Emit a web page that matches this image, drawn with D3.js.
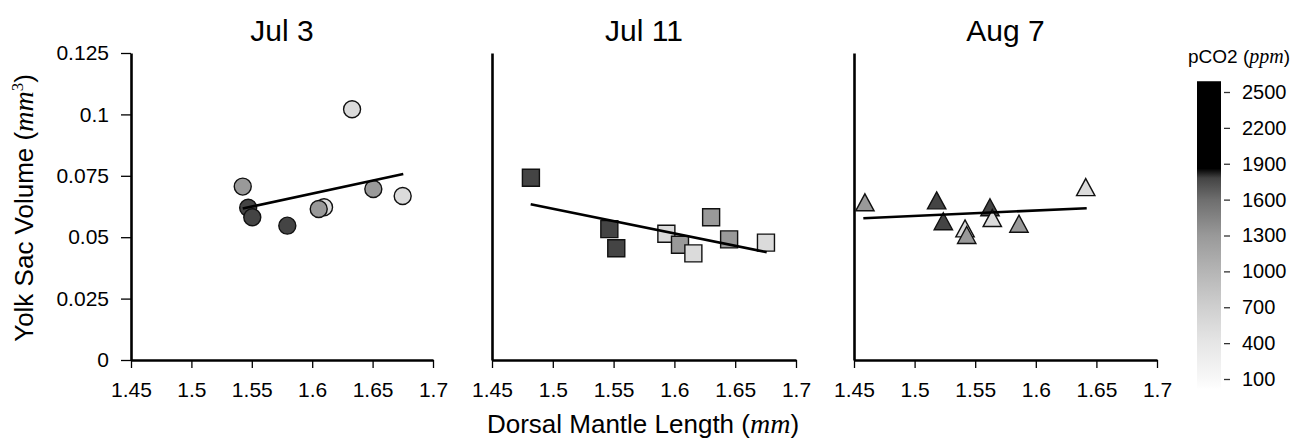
<!DOCTYPE html>
<html>
<head>
<meta charset="utf-8">
<script src="https://cdn.jsdelivr.net/npm/d3@7"></script>
<style>
  body { margin: 0; background: #fff; }
  svg { display: block; }
  text { font-family: "Liberation Sans", Arial, Helvetica, sans-serif; fill: #000; }
  .math { font-family: "Liberation Serif", "DejaVu Serif", serif; font-style: italic; }
</style>
</head>
<body>
<svg id="chart" width="1313" height="438"></svg>
<script>
// ---------------- DATA ----------------
const panelTitles = ["Jul 3", "Jul 11", "Aug 7"];
const markerShapes = ["circle", "square", "triangle"];

const xTicks = [1.45, 1.5, 1.55, 1.6, 1.65, 1.7];
const xTickLabels = ["1.45", "1.5", "1.55", "1.6", "1.65", "1.7"];
const yTicks = [0, 0.025, 0.05, 0.075, 0.1, 0.125];
const yTickLabels = ["0", "0.025", "0.05", "0.075", "0.1", "0.125"];

// Jul 3 (circles)
const jul3Length = [1.633, 1.5425, 1.547, 1.5504, 1.5794, 1.6098, 1.6054, 1.6506, 1.6749];
const jul3Volume = [0.1021, 0.0706, 0.0620, 0.0581, 0.0547, 0.0622, 0.0615, 0.0696, 0.0668];
const jul3PCO2   = [550, 1300, 1780, 1780, 1780, 550, 1300, 1300, 550];

// Jul 11 (squares)
const jul11Length = [1.482, 1.5465, 1.5522, 1.5934, 1.6046, 1.6156, 1.6302, 1.645, 1.6753];
const jul11Volume = [0.0742, 0.0533, 0.0455, 0.0514, 0.0469, 0.0434, 0.0581, 0.0491, 0.0478];
const jul11PCO2   = [1780, 1780, 1780, 550, 1300, 550, 1300, 1300, 550];

// Aug 7 (triangles)
const aug7Length = [1.459, 1.5182, 1.5237, 1.5416, 1.543, 1.5622, 1.5641, 1.5861, 1.6412];
const aug7Volume = [0.0642, 0.0650, 0.0565, 0.0536, 0.0509, 0.0622, 0.0578, 0.0555, 0.0704];
const aug7PCO2   = [1300, 1780, 1780, 550, 1300, 1780, 550, 1300, 550];

// regression line end points [x0, y0, x1, y1]
const jul3Fit  = [1.5425, 0.0617, 1.6754, 0.0757];
const jul11Fit = [1.4818, 0.0634, 1.6759, 0.0439];
const aug7Fit  = [1.4577, 0.0577, 1.6420, 0.0618];

// colour bar
const cbarTicks = [100, 400, 700, 1000, 1300, 1600, 1900, 2200, 2500];
const cbarStops = [10, 100, 400, 700, 1000, 1300, 1600, 1780, 1860, 2590];
const cbarGrays = ["#ffffff", "#f8f8f8", "#e6e6e6", "#cfcfcf", "#b5b5b5", "#999999", "#6e6e6e", "#444444", "#000000", "#000000"];
const cbarExtent = [10, 2590];

// ---------------- DRAW ----------------
const svg = d3.select("#chart");
const color = d3.scaleLinear().domain(cbarStops).range(cbarGrays).interpolate(d3.interpolateRgb);

const panels = [
  { len: jul3Length, vol: jul3Volume, co2: jul3PCO2, fit: jul3Fit, left: 131, right: 433 },
  { len: jul11Length, vol: jul11Volume, co2: jul11PCO2, fit: jul11Fit, left: 492, right: 796 },
  { len: aug7Length, vol: aug7Volume, co2: aug7PCO2, fit: aug7Fit, left: 854, right: 1157 }
];
const yTop = 53, yBottom = 360;
const y = d3.scaleLinear().domain([0, 0.125]).range([yBottom, yTop]);
const markSize = 17;

panels.forEach((p, i) => {
  const x = d3.scaleLinear().domain([1.45, 1.7]).range([p.left, p.right]);
  const g = svg.append("g");

  // title
  g.append("text")
    .attr("x", (p.left + p.right) / 2)
    .attr("y", 41)
    .attr("text-anchor", "middle")
    .style("font-size", "30px")
    .text(panelTitles[i]);

  // x axis
  const xAxis = d3.axisBottom(x)
    .tickValues(xTicks)
    .tickFormat((d, k) => xTickLabels[k])
    .tickSizeInner(8).tickSizeOuter(0).tickPadding(14);
  const gx = g.append("g").attr("transform", `translate(0,${yBottom})`).call(xAxis);
  gx.attr("font-family", null);
  gx.select(".domain").attr("stroke", "#000").attr("stroke-width", 2.6);
  gx.selectAll(".tick line").attr("stroke", "#000").attr("stroke-width", 1.3);
  gx.selectAll(".tick text").style("font-size", "21px");

  // y axis
  const yAxis = d3.axisLeft(y).tickSizeOuter(0);
  if (i === 0) {
    yAxis.tickValues(yTicks).tickFormat((d, k) => yTickLabels[k]).tickSizeInner(10).tickPadding(12);
  } else {
    yAxis.tickValues([]);
  }
  const gy = g.append("g").attr("transform", `translate(${p.left},0)`).call(yAxis);
  gy.attr("font-family", null);
  gy.select(".domain").attr("stroke", "#000").attr("stroke-width", 2.6);
  gy.selectAll(".tick line").attr("stroke", "#000").attr("stroke-width", 1.3);
  gy.selectAll(".tick text").style("font-size", "21px");

  // points
  const data = p.len.map((l, k) => ({ l, v: p.vol[k], c: p.co2[k] }));
  const shape = markerShapes[i];
  const sym = shape === "circle" ? d3.symbolCircle : d3.symbolSquare;
  const gen = d3.symbol().type(sym);
  g.selectAll("path.pt").data(data).join("path")
    .attr("class", "pt")
    .attr("d", () => {
      if (shape === "circle") return gen.size(Math.PI * 8.5 * 8.5)();
      if (shape === "square") return gen.size(markSize * markSize)();
      const h = markSize, w = markSize * 1.08;
      return `M0,${-h/2}L${w/2},${h/2}L${-w/2},${h/2}Z`;
    })
    .attr("transform", d => `translate(${x(d.l)},${y(d.v)})`)
    .attr("fill", d => color(d.c))
    .attr("stroke", "#111")
    .attr("stroke-width", 1.4);

  // regression line
  g.append("line")
    .attr("x1", x(p.fit[0])).attr("y1", y(p.fit[1]))
    .attr("x2", x(p.fit[2])).attr("y2", y(p.fit[3]))
    .attr("stroke", "#000").attr("stroke-width", 2.6);
});

// axis titles
const yt = svg.append("text")
  .attr("transform", "translate(33,208) rotate(-90)")
  .attr("text-anchor", "middle")
  .style("font-size", "26px");
yt.append("tspan").text("Yolk Sac Volume (");
yt.append("tspan").attr("class", "math").style("font-size", "28px").text("mm");
yt.append("tspan").attr("class", "math").style("font-style", "normal").attr("dy", -10).style("font-size", "17px").text("3");
yt.append("tspan").attr("dy", 10).text(")");

const xt = svg.append("text")
  .attr("x", 643).attr("y", 433)
  .attr("text-anchor", "middle")
  .style("font-size", "26px");
xt.append("tspan").text("Dorsal Mantle Length (");
xt.append("tspan").attr("class", "math").style("font-size", "28px").text("mm");
xt.append("tspan").text(")");

// colour bar
const cbX = 1197, cbW = 24;
const cy = d3.scaleLinear().domain([100, 2500]).range([379, 92]);
const defs = svg.append("defs");
const grad = defs.append("linearGradient").attr("id", "cbgrad")
  .attr("x1", 0).attr("y1", 1).attr("x2", 0).attr("y2", 0);
cbarStops.forEach((s, k) => {
  grad.append("stop")
    .attr("offset", (s - cbarExtent[0]) / (cbarExtent[1] - cbarExtent[0]))
    .attr("stop-color", cbarGrays[k]);
});
svg.append("rect")
  .attr("x", cbX).attr("width", cbW)
  .attr("y", cy(cbarExtent[1])).attr("height", cy(cbarExtent[0]) - cy(cbarExtent[1]))
  .attr("fill", "url(#cbgrad)");

const cAxis = d3.axisRight(cy).tickValues(cbarTicks).tickFormat(d3.format("d"))
  .tickSizeInner(6).tickSizeOuter(0).tickPadding(12);
const gc = svg.append("g").attr("transform", `translate(${cbX + cbW + 3},0)`).call(cAxis);
gc.attr("font-family", null);
gc.select(".domain").remove();
gc.selectAll(".tick line").attr("stroke", "#333").attr("stroke-width", 1.3);
gc.selectAll(".tick text").style("font-size", "20px");

const ct = svg.append("text").attr("x", 1188).attr("y", 63).style("font-size", "19px");
ct.append("tspan").text("pCO2 (");
ct.append("tspan").attr("class", "math").style("font-size", "20px").text("ppm");
ct.append("tspan").text(")");
</script>
</body>
</html>
